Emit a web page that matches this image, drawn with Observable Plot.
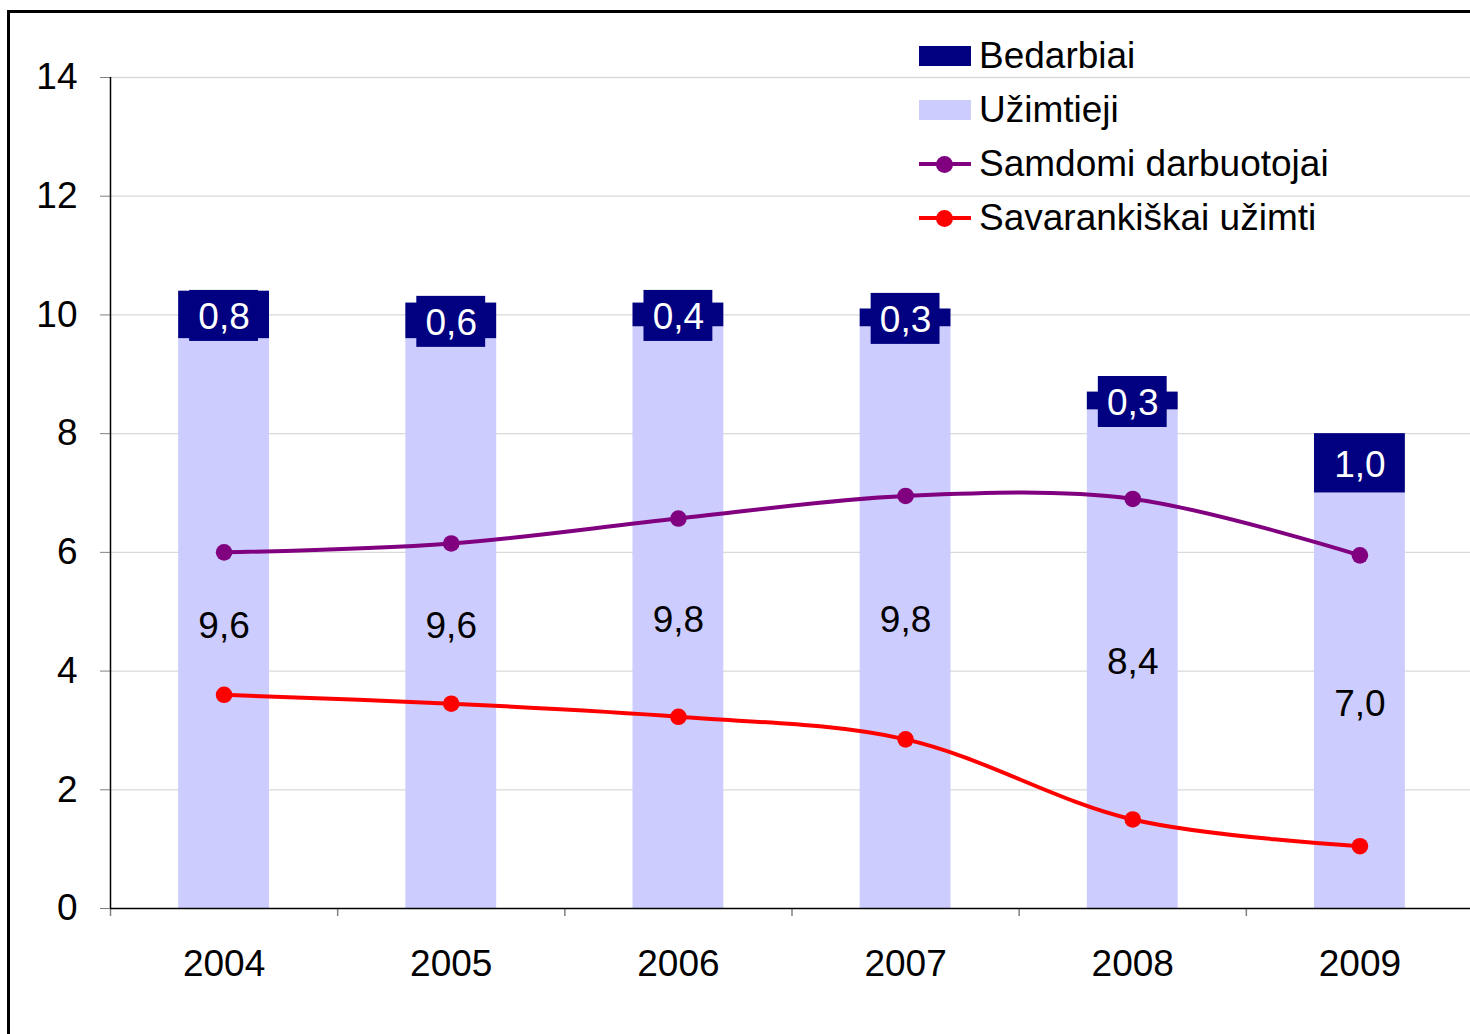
<!DOCTYPE html>
<html><head><meta charset="utf-8">
<script src="https://cdn.jsdelivr.net/npm/d3@7"></script>
<script src="https://cdn.jsdelivr.net/npm/@observablehq/plot@0.6"></script>
<style>
html,body{margin:0;padding:0;background:#fff;overflow:hidden;}
#wrap{position:relative;width:1470px;height:1034px;overflow:hidden;font-family:"Liberation Sans",Arial,sans-serif;}
#border{position:absolute;left:7px;top:10px;width:1500px;height:1100px;border:3px solid #000;box-sizing:border-box;pointer-events:none;}
#chart{position:absolute;left:0;top:0;}
#legend{position:absolute;left:919px;top:29px;font-size:37px;color:#000;}
.row{position:relative;height:54px;display:flex;align-items:center;}
.sw{width:52px;height:20px;margin-right:8px;flex:none;position:relative;}
.ln{width:52px;height:20px;margin-right:8px;flex:none;position:relative;}
.ln:before{content:"";position:absolute;left:0;right:0;top:8px;height:4px;background:var(--c);}
.ln:after{content:"";position:absolute;left:17px;top:1.5px;width:17px;height:17px;border-radius:50%;background:var(--c);}
</style>
</head><body>
<div id="wrap">
<div id="chart"></div>
<div id="legend"></div>
<div id="border"></div>
</div>
<script>
const years = ["2004", "2005", "2006", "2007", "2008", "2009"];
const employed = [9.6, 9.6, 9.8, 9.8, 8.4, 7.0];       // Užimtieji
const unemployed = [0.8, 0.6, 0.4, 0.3, 0.3, 1.0];     // Bedarbiai
const hired = [6.0, 6.15, 6.57, 6.95, 6.9, 5.95];      // Samdomi darbuotojai
const selfEmployed = [3.6, 3.45, 3.23, 2.85, 1.5, 1.05]; // Savarankiškai užimti
const yTicks = [0, 2, 4, 6, 8, 10, 12, 14];
const seriesNames = ["Bedarbiai", "Užimtieji", "Samdomi darbuotojai", "Savarankiškai užimti"];

const colNavy = "#000080", colLav = "#ccccff", colPurple = "#800080", colRed = "#ff0000";
const W = 1470, H = 1034, mL = 110, mR = -3, mT = 77, mB = 126;
const step = (W - mL - mR) / years.length;
const fmt = v => v.toFixed(1).replace(".", ",");

const rows = years.map((y, i) => ({
  year: y, emp: employed[i], unemp: unemployed[i], top: employed[i] + unemployed[i],
  mid: employed[i] + unemployed[i] / 2, hired: hired[i], self: selfEmployed[i]
}));

const chart = Plot.plot({
  width: W, height: H,
  marginLeft: mL, marginRight: mR, marginTop: mT, marginBottom: mB,
  style: {fontFamily: '"Liberation Sans", Arial, sans-serif', fontSize: "37px", background: "transparent", overflow: "visible"},
  x: {type: "band", domain: years, paddingInner: 0.6, paddingOuter: 0.3, round: false, label: null},
  y: {domain: [0, 14], label: null},
  marks: [
    Plot.gridY(yTicks.filter(t => t > 0), {stroke: "#d9d9d9", strokeOpacity: 1, strokeWidth: 1.3}),
    Plot.barY(rows, {x: "year", y1: 0, y2: "emp", fill: colLav}),
    Plot.barY(rows, {x: "year", y1: "emp", y2: "top", fill: colNavy}),
    Plot.barY(rows, {x: "year", y1: "mid", y2: "mid", fill: colNavy, insetLeft: 11, insetRight: 11, insetTop: -24.5, insetBottom: -26.5}),
    Plot.text(rows, {x: "year", y: "mid", dy: 2, text: d => fmt(d.unemp), fill: "#fff", fontSize: 37}),
    Plot.text(rows, {x: "year", y: d => d.emp / 2, dy: 3, text: d => fmt(d.emp), fill: "#000", fontSize: 37}),
    Plot.line(rows, {x: "year", y: "hired", stroke: colPurple, strokeWidth: 4, curve: "catmull-rom"}),
    Plot.dot(rows, {x: "year", y: "hired", fill: colPurple, r: 8.3}),
    Plot.line(rows, {x: "year", y: "self", stroke: colRed, strokeWidth: 4, curve: "catmull-rom"}),
    Plot.dot(rows, {x: "year", y: "self", fill: colRed, r: 8.3}),
    Plot.ruleX(years, {x: d => d, y1: 0, y2: 0, dx: -step / 2, insetBottom: -8, stroke: "#808080", strokeWidth: 1.5}),
    Plot.axisY(yTicks, {tickSize: 10, tickPadding: 23, tickFormat: d3.format("d"), stroke: "#808080", fill: "#000", fontSize: 37, label: null}),
    Plot.axisX({tickSize: 0, tickPadding: 41, fill: "#000", fontSize: 37, label: null}),
    Plot.ruleX([years[0]], {dx: -step / 2, y1: 0, y2: 14, stroke: "#000", strokeWidth: 1.5}),
    Plot.ruleY([0], {stroke: "#000", strokeWidth: 1.5})
  ]
});
document.getElementById("chart").appendChild(chart);

const leg = document.getElementById("legend");
const swatches = [
  `<div class="sw" style="background:${colNavy}"></div>`,
  `<div class="sw" style="background:${colLav}"></div>`,
  `<div class="ln" style="--c:${colPurple}"></div>`,
  `<div class="ln" style="--c:${colRed}"></div>`
];
seriesNames.forEach((n, i) => {
  const r = document.createElement("div");
  r.className = "row";
  r.innerHTML = swatches[i] + `<span>${n}</span>`;
  leg.appendChild(r);
});
</script>
</body></html>
